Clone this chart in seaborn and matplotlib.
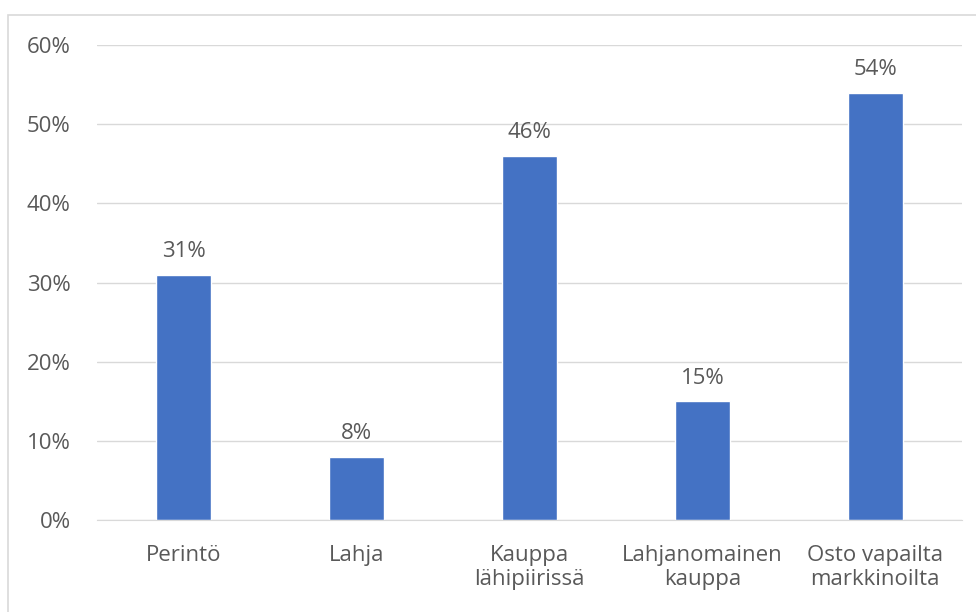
#!/usr/bin/env python3
import pandas as pd
import seaborn as sns
import matplotlib.pyplot as plt
from matplotlib.patches import Rectangle
from matplotlib.ticker import PercentFormatter

# Data
categories = ['Perintö', 'Lahja', 'Kauppa\nlähipiirissä', 'Lahjanomainen\nkauppa', 'Osto vapailta\nmarkkinoilta']
shares = [0.31, 0.08, 0.46, 0.15, 0.54]

df = pd.DataFrame({'category': categories, 'share': shares})

sns.set_style('white')
plt.rcParams['font.family'] = ['Open Sans', 'DejaVu Sans']
text_color = '#595959'
fsize = 16

fig = plt.figure(figsize=(9.76, 6.12), dpi=100)
ax = fig.add_axes([0.0994, 0.150, 0.886, 0.7765])

sns.barplot(data=df, x='category', y='share', color='#4472C4', width=0.32,
            saturation=1, ax=ax)

ax.set_ylim(0, 0.6)
ax.set_yticks([0, 0.1, 0.2, 0.3, 0.4, 0.5, 0.6])
ax.yaxis.set_major_formatter(PercentFormatter(1.0, decimals=0))
ax.grid(axis='y', color='#D9D9D9', linewidth=1)
ax.set_axisbelow(True)
for s in ['top', 'right', 'left']:
    ax.spines[s].set_visible(False)
ax.spines['bottom'].set_color('#D9D9D9')
ax.set_xlabel('')
ax.set_ylabel('')
ax.tick_params(axis='both', length=0, labelsize=fsize, colors=text_color)
ax.tick_params(axis='x', pad=18)
ax.tick_params(axis='y', pad=19)
for lbl in ax.get_xticklabels():
    lbl.set_linespacing(1.2)

# Value labels
for c in ax.containers:
    ax.bar_label(c, labels=[f'{v*100:.0f}%' for v in c.datavalues],
                 padding=9, fontsize=fsize, color=text_color)

# Chart area border (left and top edges visible)
fig.patches.append(Rectangle((8 / 976, -0.1), 1.2, 1.1 - 15 / 612, transform=fig.transFigure,
                             fill=False, edgecolor='#D9D9D9', linewidth=1.2))

fig.savefig('out.png', dpi=100)
plt.close(fig)
